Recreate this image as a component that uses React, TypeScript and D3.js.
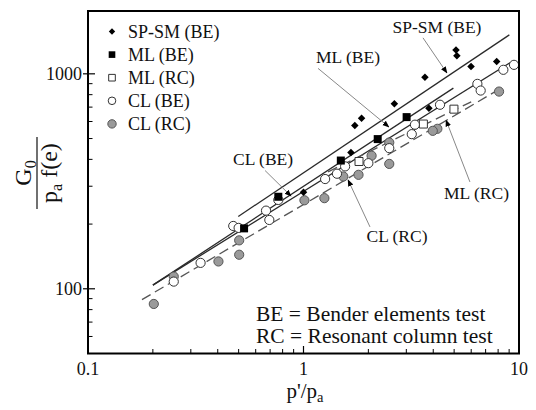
import React from 'react';
import * as d3 from 'd3';

const W = 536;
const H = 410;

const xTicks = [0.1, 1, 10];
const yTicks = [100, 1000];
const xDomain = [0.1, 10];
const yDomain = [50, 1960];

// series: [p'/pa, G0/(pa f(e))]
const spsmBE = [[5.1, 1290], [5.15, 1215], [5.99, 1081], [7.88, 1141], [3.66, 965], [2.64, 725], [3.82, 692], [1.86, 622], [1.73, 575], [1.66, 431], [1.0, 281]];
const mlBE = [[3.01, 629], [2.21, 497], [1.49, 395], [0.764, 268], [0.53, 191]];
const mlRC = [[4.99, 685], [3.6, 584], [1.81, 391]];
const clBE = [[9.48, 1101], [8.46, 1044], [6.41, 898], [6.64, 836], [4.3, 718], [3.29, 580], [3.18, 524], [2.5, 451], [2.0, 384], [1.56, 371], [1.43, 343], [1.26, 324], [0.764, 259], [0.67, 231], [0.694, 209], [0.472, 196], [0.5, 192], [0.333, 132], [0.25, 108]];
const clRC = [[8.08, 827], [4.18, 555], [3.98, 543], [2.5, 479], [2.5, 381], [2.07, 416], [1.8, 339], [1.53, 333], [1.25, 264], [1.01, 258], [0.503, 168], [0.503, 144], [0.403, 134], [0.25, 114], [0.202, 85]];

// fitted lines (end points)
const fitSPSM = [[0.498, 217], [9.02, 1518]];
const fitMLBE = [[0.2, 104], [4.96, 858]];
const fitCLBE = [[0.2, 104], [9.08, 1125]];
const fitMLRC = [[1.3, 350], [6.0, 741]];
const fitCLRC = [[0.178, 89], [8.46, 870]];

// annotations: label, text position (data), arrow start (data), arrow tip (data)
const notes = [
  { label: 'SP-SM (BE)', at: [4.16, 1548], from: [3.585, 1470], to: [4.63, 1009] },
  { label: 'ML (BE)', at: [1.61, 1123], from: [1.168, 1060], to: [2.49, 566] },
  { label: 'CL (BE)', at: [0.649, 377], from: [0.663, 355], to: [0.875, 270] },
  { label: 'CL (RC)', at: [2.716, 165], from: [2.035, 194], to: [1.61, 321] },
  { label: 'ML (RC)', at: [6.35, 262], from: [5.92, 314], to: [4.585, 609] },
];

const legendItems = ['SP-SM (BE)', 'ML (BE)', 'ML (RC)', 'CL (BE)', 'CL (RC)'];

const FONT = "'Liberation Serif', Tinos, 'Times New Roman', Times, serif";

export default function App() {
  const x = d3.scaleLog().domain(xDomain).range([88, 519]);
  const y = d3.scaleLog().domain(yDomain).range([353.5, 11]);
  const line = d3.line<number[]>().x((d) => x(d[0])).y((d) => y(d[1]));

  const xMinor: number[] = [];
  for (const dec of [0.1, 1]) for (let k = 2; k <= 9; k++) xMinor.push(dec * k);
  const yMinor: number[] = [];
  for (const dec of [10, 100, 1000]) for (let k = 2; k <= 9; k++) {
    const v = dec * k;
    if (v >= yDomain[0] && v <= yDomain[1] && v !== 100 && v !== 1000) yMinor.push(v);
  }

  const diamond = d3.symbol(d3.symbolDiamond2, 36)() as string;
  const diamondSm = d3.symbol(d3.symbolDiamond2, 26)() as string;
  const square = d3.symbol(d3.symbolSquare, 64)() as string;
  const squareSm = d3.symbol(d3.symbolSquare, 44)() as string;

  const solid = '#2a2a2a';
  const ts = { fontFamily: FONT };

  return (
    <svg width={W} height={H} style={{ position: 'absolute', left: 0, top: 0, background: '#fff', fontFamily: FONT }}>
      <defs>
        <marker id="ah" viewBox="0 0 10 10" refX="9" refY="5" markerWidth="7" markerHeight="7" orient="auto">
          <path d="M0,1 L10,5 L0,9 Z" fill="#000" />
        </marker>
      </defs>
      <rect x={0} y={0} width={W} height={H} fill="#fff" />

      {/* fitted lines */}
      <path d={line(fitSPSM)!} stroke={solid} strokeWidth={1.3} fill="none" />
      <path d={line(fitMLBE)!} stroke={solid} strokeWidth={1.3} fill="none" />
      <path d={line(fitCLBE)!} stroke={solid} strokeWidth={1.3} fill="none" />
      <path d={line(fitMLRC)!} stroke="#555" strokeWidth={1.3} fill="none" strokeDasharray="10,5" />
      <path d={line(fitCLRC)!} stroke="#555" strokeWidth={1.3} fill="none" strokeDasharray="10,5" />

      {/* leader lines */}
      {notes.map((n) => (
        <g key={n.label}>
          <line x1={x(n.from[0])} y1={y(n.from[1])} x2={x(n.to[0])} y2={y(n.to[1])} stroke="#888" strokeWidth={1} markerEnd="url(#ah)" />
          <text style={ts} x={x(n.at[0])} y={y(n.at[1])} fontSize={17.5} textAnchor="middle" fill="#111">{n.label}</text>
        </g>
      ))}

      {/* data */}
      {clRC.map((d, i) => (
        <circle key={'cr' + i} cx={x(d[0])} cy={y(d[1])} r={4.6} fill="#9a9a9a" stroke="#555" strokeWidth={1} />
      ))}
      {clBE.map((d, i) => (
        <circle key={'cb' + i} cx={x(d[0])} cy={y(d[1])} r={4.6} fill="#fff" stroke="#333" strokeWidth={1} />
      ))}
      {mlRC.map((d, i) => (
        <path key={'mr' + i} d={square} transform={`translate(${x(d[0])},${y(d[1])})`} fill="#fff" stroke="#333" strokeWidth={1} />
      ))}
      {mlBE.map((d, i) => (
        <path key={'mb' + i} d={square} transform={`translate(${x(d[0])},${y(d[1])})`} fill="#000" />
      ))}
      {spsmBE.map((d, i) => (
        <path key={'sp' + i} d={diamond} transform={`translate(${x(d[0])},${y(d[1])})`} fill="#000" />
      ))}

      {/* legend */}
      {legendItems.map((lab, i) => {
        const ly = 31.5 + i * 23.1;
        let mk: React.ReactNode = null;
        if (i === 0) mk = <path d={diamondSm} transform={`translate(112,${ly})`} fill="#000" />;
        if (i === 1) mk = <path d={squareSm} transform={`translate(112,${ly})`} fill="#000" />;
        if (i === 2) mk = <path d={squareSm} transform={`translate(112,${ly})`} fill="#fff" stroke="#333" />;
        if (i === 3) mk = <circle cx={112} cy={ly} r={3.8} fill="#fff" stroke="#333" />;
        if (i === 4) mk = <circle cx={112} cy={ly} r={4.2} fill="#9a9a9a" stroke="#555" />;
        return (
          <g key={lab}>
            {mk}
            <text style={ts} x={128} y={ly + 6} fontSize={18} fill="#111">{lab}</text>
          </g>
        );
      })}

      {/* note */}
      <text style={ts} x={256} y={321} fontSize={21.5} fill="#111">BE = Bender elements test</text>
      <text style={ts} x={256} y={343} fontSize={21.5} fill="#111">RC = Resonant column test</text>

      {/* frame */}
      <rect x={88} y={11} width={431} height={342.5} fill="none" stroke="#000" strokeWidth={2} />

      {/* x ticks */}
      {xMinor.map((v) => (
        <line key={'xm' + v} x1={x(v)} x2={x(v)} y1={353.5} y2={349} stroke="#000" strokeWidth={1} />
      ))}
      {xTicks.map((v) => (
        <g key={'xt' + v}>
          <line x1={x(v)} x2={x(v)} y1={353.5} y2={346} stroke="#000" strokeWidth={1.2} />
          <text style={ts} x={x(v)} y={375} fontSize={18} textAnchor="middle" fill="#111">{String(v)}</text>
        </g>
      ))}
      {/* y ticks */}
      {yMinor.map((v) => (
        <line key={'ym' + v} x1={88} x2={92.5} y1={y(v)} y2={y(v)} stroke="#000" strokeWidth={1} />
      ))}
      {yTicks.map((v) => (
        <g key={'yt' + v}>
          <line x1={83} x2={95} y1={y(v)} y2={y(v)} stroke="#000" strokeWidth={1.2} />
          <text style={ts} x={82} y={y(v) + 6} fontSize={18} textAnchor="end" fill="#111">{String(v)}</text>
        </g>
      ))}

      {/* x title */}
      <text style={ts} x={305} y={398} fontSize={21} textAnchor="middle" fill="#111">
        p'/p<tspan fontSize={14.5} dy={4}>a</tspan>
      </text>

      {/* y title as fraction */}
      <g transform="translate(37,173) rotate(-90)">
        <text style={ts} x={0} y={-6} fontSize={24} textAnchor="middle" fill="#111">
          G<tspan fontSize={16} dy={5}>0</tspan>
        </text>
        <line x1={-36} x2={36} y1={0} y2={0} stroke="#111" strokeWidth={1.2} />
        <text style={ts} x={0} y={20} fontSize={24} textAnchor="middle" fill="#111">
          p<tspan fontSize={16} dy={5}>a</tspan><tspan dy={-5}> f(e)</tspan>
        </text>
      </g>
    </svg>
  );
}
